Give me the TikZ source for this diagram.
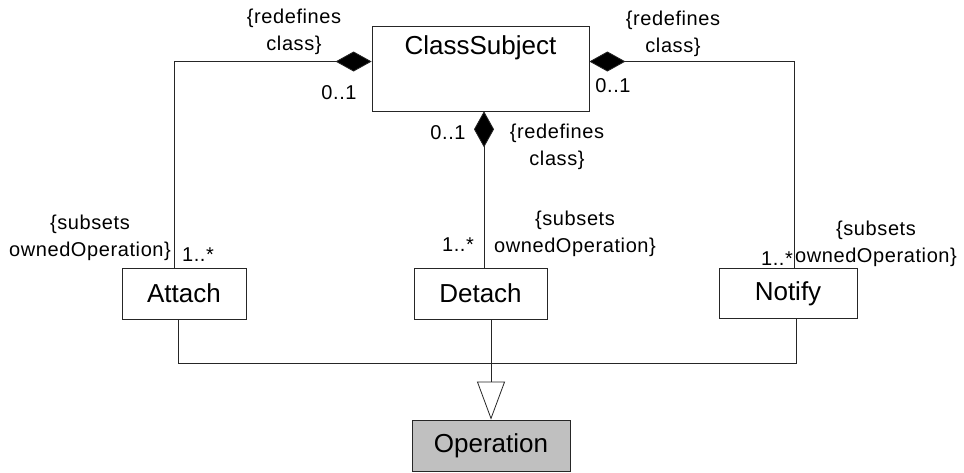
\documentclass[tikz,border=0pt]{standalone}
\usepackage{fontspec}
\setmainfont{Liberation Sans}
\newfontfamily\lblfont[LetterSpace=3]{Liberation Sans}
\usetikzlibrary{arrows.meta}
\definecolor{opgray}{HTML}{C0C0C0}
\tikzset{
  cls/.style={draw=black!85, line width=0.8pt, inner sep=0pt, font=\fontsize{26}{31}\selectfont},
  clsname/.style={inner sep=0pt, font=\fontsize{26}{31}\selectfont},
  lbl/.style={inner sep=0pt, align=center, font=\lblfont\fontsize{20}{27}\selectfont},
  link/.style={draw=black!85, line width=0.8pt},
  assoc/.style={link, {Diamond[length=36pt,width=20pt,fill=black]}-},
  inherit/.style={link, -{Triangle[open,length=38pt,width=28pt,fill=white]}}
}
\begin{document}
\begin{tikzpicture}[x=1pt,y=-1pt]
\useasboundingbox (0,0) rectangle (964,472);

\node[cls, minimum width=217pt, minimum height=85pt] (subj) at (480.5,68.4) {};
\node[clsname] (subjname) at (480.5,48) {ClassSubject};
\node[cls, minimum width=124pt, minimum height=51pt] (attach) at (184,293.5) {Attach};
\node[cls, minimum width=133pt, minimum height=51pt] (detach) at (480.5,293.5) {Detach};
\node[cls, minimum width=138pt, minimum height=50pt] (notify) at (788,293.5) {Notify};
\node[cls, fill=opgray, minimum width=158pt, minimum height=51pt] (op) at (491,445.5) {Operation};

\coordinate (lbend) at (174,61.5);
\coordinate (rbend) at (794,61.5);
\coordinate (dtop) at ([xshift=3.5pt]subj.south);
\draw[assoc] (subj.west |- lbend) -- (lbend) -- (lbend |- attach.north);
\draw[assoc] (subj.east |- rbend) -- (rbend) -- (rbend |- notify.north);
\draw[assoc] (dtop) -- (dtop |- detach.north);

\coordinate (bus) at (491,363);
\coordinate (afoot) at ([xshift=-6pt]attach.south);
\coordinate (nfoot) at ([xshift=8pt]notify.south);
\draw[link] (afoot) |- (nfoot |- bus) -- (nfoot);
\draw[link] (bus |- detach.south) -- (bus);
\draw[inherit] (bus) -- (op.north);

\node[lbl] (lred) at (294,31.5) {\{redefines\\class\}};
\node[lbl] (lmul) at (339,93) {0..1};
\node[lbl] (rred) at (673,33.5) {\{redefines\\class\}};
\node[lbl] (rmul) at (613,86) {0..1};
\node[lbl] (dred) at (557,146.5) {\{redefines\\class\}};
\node[lbl] (dmul) at (448,133) {0..1};
\node[lbl] (asub) at (90,237.5) {\{subsets\\ownedOperation\}};
\node[lbl] (amul) at (198,255) {1..*};
\node[lbl] (dsub) at (575,234) {\{subsets\\ownedOperation\}};
\node[lbl] (dmany) at (458,245) {1..*};
\node[lbl] (nsub) at (876,244) {\{subsets\\ownedOperation\}};
\node[lbl] (nmul) at (777,259) {1..*};
\end{tikzpicture}
\end{document}
